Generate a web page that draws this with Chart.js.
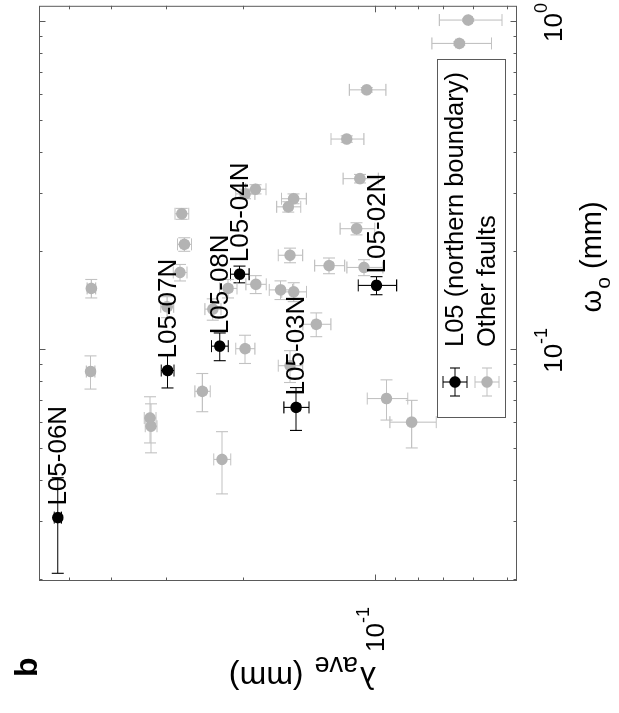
<!DOCTYPE html>
<html><head><meta charset="utf-8">
<script src="https://cdn.jsdelivr.net/npm/chart.js@4/dist/chart.umd.min.js"></script>
<style>
html,body{margin:0;padding:0;background:#fff;overflow:hidden;width:619px;height:713px;}
#wrap{position:absolute;left:0;top:0;width:713px;height:619px;transform-origin:0 0;transform:translateY(713px) rotate(-90deg);background:#fff;}
canvas{display:block;}
</style></head><body>
<div id="wrap"><canvas id="c" width="713" height="619"></canvas></div>
<script>
// ---------- data (ω_o on x, λ_ave on y; figure is shown rotated 90° CCW) ----------
const otherOmega  = [1.017,0.863,0.623,0.441,0.334,0.310,0.300,0.290,0.274,0.261,0.235,0.2105,0.195,0.1813,0.179,0.1728,0.159,0.1545,0.1545,0.1529,0.1508,0.1336,0.1201,0.1012,0.0898,0.0862,0.0750,0.0713,0.0622,0.0587,0.0604,0.0465,0.1358];
const otherLambda = [0.0614,0.0643,0.1046,0.1162,0.1084,0.1876,0.1982,0.1536,0.1579,0.2764,0.1103,0.2726,0.1565,0.1275,0.1061,0.2789,0.1873,0.4444,0.2167,0.1645,0.1535,0.2348,0.1363,0.1982,0.1565,0.4462,0.2480,0.0943,0.3265,0.3248,0.0826,0.2237,0.2985];
const otherOmegaErr  = [0.01,0.01,0.01,0.01,0.01,0.01,0.01,0.01,0.01,0.01,0.01,0.01,0.01,0.01,0.01,0.01,0.01,0.01,0.01,0.01,0.01,0.01,0.01,0.01,0.01,0.01,0.01,0.01,0.01,0.01,0.01,0.01,0.01];
const otherLambdaErr = [0.01,0.01,0.01,0.01,0.01,0.01,0.01,0.01,0.01,0.01,0.01,0.01,0.01,0.01,0.01,0.01,0.01,0.01,0.01,0.01,0.01,0.01,0.01,0.01,0.01,0.01,0.01,0.01,0.01,0.01,0.01,0.01,0.01];

const l05Names  = ['L05-02N','L05-03N','L05-04N','L05-06N','L05-07N','L05-08N'];
const l05Omega  = [0.1578,0.0670,0.1707,0.0309,0.0868,0.1030];
const l05Lambda = [0.0994,0.1516,0.2040,0.530,0.2978,0.2264];
const l05OmegaErr  = [0.01,0.01,0.01,0.01,0.01,0.01];
const l05LambdaErr = [0.01,0.01,0.01,0.01,0.01,0.01];

const omegaTickValues  = [0.1, 1];
const omegaTickLabels  = ['10^-1', '10^0'];
const lambdaTickValues = [0.1];
const lambdaTickLabels = ['10^-1'];
const legendLabels = ['L05 (northern boundary)', 'Other faults'];
const panelLabel = 'b';

const OMEGA_MIN = 0.0198, OMEGA_MAX = 1.124;
const LAMBDA_MIN = 0.0475, LAMBDA_MAX = 0.585;

// ---------- styles ----------
const GREY = '#b3b3b3', GREY_BAR = '#c2c2c2', BLACK = '#000000';
const AXIS = '#5a5a5a';
const FONT = '"Liberation Sans", Arial, Helvetica, sans-serif';
const FS = 26, FS_SUB = 18, FS_T = 29, FS_TSUB = 21, FS_LEG = 25.5;
const FS_YT = 32, FS_YTSUB = 27;
const CAP = 6, PR = 5.8;

function logTicks(min, max) {
  const out = [];
  for (let e = Math.floor(Math.log10(min)); e <= Math.ceil(Math.log10(max)); e++) {
    for (let m = 1; m <= 9; m++) {
      const v = +(m * Math.pow(10, e)).toPrecision(6);
      if (v >= min && v <= max) out.push(v);
    }
  }
  return out;
}

const seriesStyle = [
  {omega: otherOmega, lambda: otherLambda, eo: otherOmegaErr, el: otherLambdaErr, bar: GREY_BAR},
  {omega: l05Omega, lambda: l05Lambda, eo: l05OmegaErr, el: l05LambdaErr, bar: BLACK}
];

function drawPower(ctx, label, x, y, align) {
  const [base, exp] = label.split('^');
  ctx.font = FS + 'px ' + FONT;
  const wb = ctx.measureText(base).width;
  ctx.font = FS_SUB + 'px ' + FONT;
  const we = ctx.measureText(exp).width;
  const total = wb + we;
  let x0 = align === 'center' ? x - total / 2 : (align === 'right' ? x - total : x);
  ctx.textAlign = 'left'; ctx.textBaseline = 'alphabetic';
  ctx.font = FS + 'px ' + FONT;
  ctx.fillText(base, x0, y);
  ctx.font = FS_SUB + 'px ' + FONT;
  ctx.fillText(exp, x0 + wb, y - 15);
}

const errorBarPlugin = {
  id: 'errbars',
  beforeDatasetDraw(chart, args) {
    const s = seriesStyle[args.index];
    const xs = chart.scales.x, ys = chart.scales.y, ctx = chart.ctx, a = chart.chartArea;
    ctx.save();
    ctx.beginPath(); ctx.rect(a.left, a.top, a.right - a.left, a.bottom - a.top); ctx.clip();
    ctx.strokeStyle = s.bar; ctx.lineWidth = 1.1;
    for (let i = 0; i < s.omega.length; i++) {
      const px = xs.getPixelForValue(s.omega[i]), py = ys.getPixelForValue(s.lambda[i]);
      const x1 = xs.getPixelForValue(s.omega[i] - s.eo[i]), x2 = xs.getPixelForValue(s.omega[i] + s.eo[i]);
      const y1 = ys.getPixelForValue(s.lambda[i] - s.el[i]), y2 = ys.getPixelForValue(s.lambda[i] + s.el[i]);
      ctx.beginPath();
      ctx.moveTo(x1, py); ctx.lineTo(x2, py);
      ctx.moveTo(x1, py - CAP); ctx.lineTo(x1, py + CAP);
      ctx.moveTo(x2, py - CAP); ctx.lineTo(x2, py + CAP);
      ctx.moveTo(px, y1); ctx.lineTo(px, y2);
      ctx.moveTo(px - CAP, y1); ctx.lineTo(px + CAP, y1);
      ctx.moveTo(px - CAP, y2); ctx.lineTo(px + CAP, y2);
      ctx.stroke();
    }
    ctx.restore();
  }
};

const decorPlugin = {
  id: 'decor',
  afterDraw(chart) {
    const ctx = chart.ctx, a = chart.chartArea, xs = chart.scales.x, ys = chart.scales.y;
    ctx.save();
    ctx.strokeStyle = AXIS; ctx.lineWidth = 1;
    ctx.strokeRect(a.left + 0.5, a.top + 0.5, a.right - a.left - 1, a.bottom - a.top - 1);
    ctx.beginPath();
    xs.ticks.forEach(t => {
      const p = Math.round(xs.getPixelForValue(t.value)) + 0.5;
      const len = omegaTickValues.includes(t.value) ? 6.5 : 3.5;
      ctx.moveTo(p, a.bottom); ctx.lineTo(p, a.bottom - len);
      ctx.moveTo(p, a.top); ctx.lineTo(p, a.top + len);
    });
    ys.ticks.forEach(t => {
      const p = Math.round(ys.getPixelForValue(t.value)) + 0.5;
      const len = lambdaTickValues.includes(t.value) ? 6.5 : 3.5;
      ctx.moveTo(a.left, p); ctx.lineTo(a.left + len, p);
      ctx.moveTo(a.right, p); ctx.lineTo(a.right - len, p);
    });
    ctx.stroke();

    // tick labels
    ctx.fillStyle = '#000';
    omegaTickValues.forEach((v, i) => drawPower(ctx, omegaTickLabels[i], xs.getPixelForValue(v), a.bottom + 45, 'center'));
    lambdaTickValues.forEach((v, i) => drawPower(ctx, lambdaTickLabels[i], a.left - 26, ys.getPixelForValue(v) + 9, 'right'));

    // x title: ω_o (mm)
    const cx = (a.left + a.right) / 2 + 36;
    ctx.textBaseline = 'alphabetic';
    ctx.font = FS_T + 'px ' + FONT;
    const w1 = ctx.measureText('\u03c9').width;
    ctx.font = FS_TSUB + 'px ' + FONT;
    const w2 = ctx.measureText('o').width;
    ctx.font = FS_T + 'px ' + FONT;
    const w3 = ctx.measureText(' (mm)').width;
    let x0 = cx - (w1 + w2 + w3) / 2;
    const yb = a.bottom + 84;
    ctx.textAlign = 'left';
    ctx.fillText('\u03c9', x0, yb);
    ctx.font = FS_TSUB + 'px ' + FONT; ctx.fillText('o', x0 + w1 + 1, yb + 9);
    ctx.font = FS_T + 'px ' + FONT; ctx.fillText(' (mm)', x0 + w1 + w2 + 1, yb);

    // y title: λ_ave (mm), rotated, reading bottom to top
    ctx.save();
    ctx.translate(a.left - 86, 376);
    ctx.rotate(-Math.PI / 2);
    ctx.textAlign = 'left';
    ctx.font = FS_YT + 'px ' + FONT;
    const v1 = ctx.measureText('\u03bb').width;
    ctx.fillText('\u03bb', 0, 0);
    ctx.font = FS_YTSUB + 'px ' + FONT;
    const v2 = ctx.measureText('ave').width;
    ctx.fillText('ave', v1 + 2, 10);
    ctx.font = FS_YT + 'px ' + FONT;
    ctx.fillText(' (mm)', v1 + v2 + 4, 0);
    ctx.restore();

    // point labels
    ctx.font = FS + 'px ' + FONT; ctx.textAlign = 'left'; ctx.textBaseline = 'middle'; ctx.fillStyle = '#000';
    l05Names.forEach((n, i) => {
      ctx.fillText(n, xs.getPixelForValue(l05Omega[i]) + 12, ys.getPixelForValue(l05Lambda[i]) + 1);
    });

    // legend
    const L = {x1: 295, y1: 437, x2: 654, y2: 506};
    ctx.fillStyle = '#fff'; ctx.fillRect(L.x1, L.y1, L.x2 - L.x1, L.y2 - L.y1);
    ctx.strokeStyle = AXIS; ctx.lineWidth = 1;
    ctx.strokeRect(L.x1 + 0.5, L.y1 + 0.5, L.x2 - L.x1 - 1, L.y2 - L.y1 - 1);
    const rows = [{c: BLACK, bar: BLACK, y: 455}, {c: GREY, bar: GREY_BAR, y: 487}];
    rows.forEach((r, i) => {
      const mx = 331;
      ctx.strokeStyle = r.bar; ctx.lineWidth = 1.1;
      ctx.beginPath();
      ctx.moveTo(mx - 14, r.y); ctx.lineTo(mx + 14, r.y);
      ctx.moveTo(mx - 14, r.y - 5); ctx.lineTo(mx - 14, r.y + 5);
      ctx.moveTo(mx + 14, r.y - 5); ctx.lineTo(mx + 14, r.y + 5);
      ctx.moveTo(mx, r.y - 12); ctx.lineTo(mx, r.y + 12);
      ctx.moveTo(mx - 6, r.y - 12); ctx.lineTo(mx + 6, r.y - 12);
      ctx.moveTo(mx - 6, r.y + 12); ctx.lineTo(mx + 6, r.y + 12);
      ctx.stroke();
      ctx.fillStyle = r.c; ctx.beginPath(); ctx.arc(mx, r.y, PR, 0, Math.PI * 2); ctx.fill();
      ctx.fillStyle = '#000'; ctx.font = FS_LEG + 'px ' + FONT; ctx.textBaseline = 'middle'; ctx.textAlign = 'left';
      ctx.fillText(legendLabels[i], 366, r.y + 1);
    });

    // panel label
    ctx.font = 'bold 32px ' + FONT; ctx.textBaseline = 'alphabetic'; ctx.fillStyle = '#000';
    ctx.fillText(panelLabel, 36, 37);
    ctx.restore();
  }
};

new Chart(document.getElementById('c'), {
  type: 'scatter',
  data: {
    datasets: [
      {label: legendLabels[1], data: otherOmega.map((w, i) => ({x: w, y: otherLambda[i]})),
       backgroundColor: GREY, borderWidth: 0, pointRadius: PR, pointHoverRadius: PR},
      {label: legendLabels[0], data: l05Omega.map((w, i) => ({x: w, y: l05Lambda[i]})),
       backgroundColor: BLACK, borderWidth: 0, pointRadius: PR, pointHoverRadius: PR}
    ]
  },
  options: {
    responsive: false, animation: false, devicePixelRatio: 1,
    layout: {padding: {top: 39, right: 4, left: 0, bottom: 0}},
    plugins: {legend: {display: false}, tooltip: {enabled: false}},
    scales: {
      x: {type: 'logarithmic', min: OMEGA_MIN, max: OMEGA_MAX,
          afterBuildTicks: s => { s.ticks = logTicks(OMEGA_MIN, OMEGA_MAX).map(v => ({value: v})); },
          afterFit: s => { s.height = 102; },
          ticks: {display: false}, grid: {display: false}, border: {display: false}},
      y: {type: 'logarithmic', min: LAMBDA_MIN, max: LAMBDA_MAX,
          afterBuildTicks: s => { s.ticks = logTicks(LAMBDA_MIN, LAMBDA_MAX).map(v => ({value: v})); },
          afterFit: s => { s.width = 132; },
          ticks: {display: false}, grid: {display: false}, border: {display: false}}
    }
  },
  plugins: [errorBarPlugin, decorPlugin]
});
</script>
</body></html>
